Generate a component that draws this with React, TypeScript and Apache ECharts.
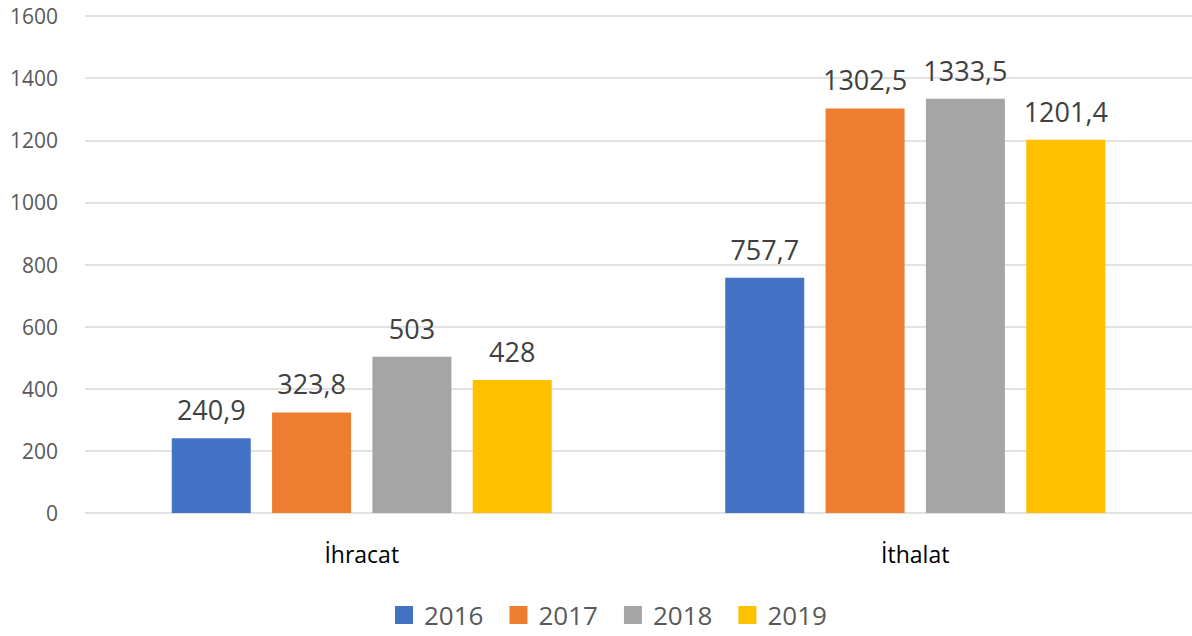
import React, { useEffect, useRef } from "react";
import * as echarts from "echarts";

const categories = ["İhracat", "İthalat"];
const seriesNames = ["2016", "2017", "2018", "2019"];
const values2016 = [240.9, 757.7];
const values2017 = [323.8, 1302.5];
const values2018 = [503, 1333.5];
const values2019 = [428, 1201.4];
const colors = ["#4472C4", "#ED7D31", "#A5A5A5", "#FFC000"];
const yTicks = { min: 0, max: 1600, interval: 200 };

const FONT = "'Open Sans', 'Noto Sans', sans-serif";

export default function App() {
  const ref = useRef<HTMLDivElement>(null);
  useEffect(() => {
    if (!ref.current) return;
    const chart = echarts.init(ref.current, null, { renderer: "svg" });
    const all = [values2016, values2017, values2018, values2019];
    chart.setOption({
      animation: false,
      textStyle: { fontFamily: FONT },
      grid: { left: 85, right: 0, top: 16, bottom: 123 },
      legend: {
        top: 602,
        left: 395,
        padding: 0,
        itemWidth: 18,
        itemHeight: 18,
        itemGap: 26,
        icon: "rect",
        textStyle: { fontSize: 26, color: "#595959", fontFamily: FONT, padding: [0, 0, 0, 6] },
        data: seriesNames,
      },
      xAxis: {
        type: "category",
        data: categories,
        axisLine: { show: false },
        axisTick: { show: false },
        axisLabel: { fontSize: 23, color: "#000", margin: 29, fontFamily: FONT },
      },
      yAxis: {
        type: "value",
        min: yTicks.min,
        max: yTicks.max,
        interval: yTicks.interval,
        axisLine: { show: false },
        axisTick: { show: false },
        axisLabel: {
          fontSize: 21,
          color: "#595959",
          margin: 27,
          fontFamily: FONT,
          formatter: (v: number) => String(v),
        },
        splitLine: { lineStyle: { color: "#D9D9D9", width: 1.5 } },
      },
      series: seriesNames.map((name, i) => ({
        name,
        type: "bar",
        data: all[i],
        barWidth: 79,
        barGap: "27%",
        itemStyle: { color: colors[i] },
        label: {
          show: true,
          position: "top",
          distance: 15,
          fontSize: 27,
          color: "#404040",
          fontFamily: FONT,
          formatter: (p: any) => String(p.value).replace(".", ","),
        },
      })),
    });
    return () => chart.dispose();
  }, []);
  return <div ref={ref} style={{ width: 1192, height: 636, position: "absolute", left: 0, top: 0 }} />;
}
